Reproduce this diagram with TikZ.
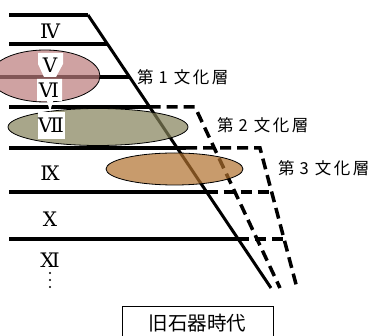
\documentclass[tikz,border=0pt]{standalone}
\usepackage{fontspec}
\newfontfamily\jp{Noto Sans CJK JP}
\newfontfamily\rom{DejaVu Serif}
\definecolor{pinkE}{RGB}{186,123,123}
\definecolor{oliveE}{RGB}{131,128,88}
\definecolor{orangeE}{RGB}{176,112,45}
\begin{document}
\begin{tikzpicture}[x=1pt,y=-1pt,
  layer/.style={line width=4pt},
  diag/.style={line width=3pt},
  dashline/.style={line width=3.5pt,dash pattern=on 11pt off 6pt},
  numeral/.style={font=\rom\fontsize{20}{20}\selectfont,inner sep=0pt},
  culture/.style={font=\jp\fontsize{16.5}{16.5}\selectfont,anchor=west,inner sep=0pt},
  periodbox/.style={draw=black,line width=1pt,minimum width=151pt,minimum height=33pt,font=\jp\fontsize{19.5}{20}\selectfont,inner sep=0pt}]
\useasboundingbox (0,0) rectangle (380,336);
% main diagonal
\coordinate (dTop) at (88,15);
\coordinate (dBot) at (271,288);
\draw[diag] (dTop) -- (dBot);
% solid layer lines
\coordinate (l0a) at (9,15);
\coordinate (l1a) at (9,44);   \coordinate (l1b) at (107.4,44);
\coordinate (l2a) at (0,77);   \coordinate (l2b) at (129.6,77);
\coordinate (l3a) at (9,107);  \coordinate (l3b) at (149.7,107);
\coordinate (l4a) at (9,148);  \coordinate (l4b) at (186,148);
\coordinate (l5a) at (9,192);  \coordinate (l5b) at (206.6,192);
\coordinate (l6a) at (9,239);  \coordinate (l6b) at (238,239);
\draw[layer] (l0a) -- (dTop);
\draw[layer] (l1a) -- (l1b);
\draw[layer] (l2a) -- (l2b);
\draw[layer] (l3a) -- (l3b);
\draw[layer] (l4a) -- (l4b);
\draw[layer] (l5a) -- (l5b);
\draw[layer] (l6a) -- (l6b);
% dashed boundaries
\coordinate (aTop) at (195,107);
\coordinate (aBot) at (280,288);
\coordinate (bTop) at (260,148);
\coordinate (bBot) at (297,288);
\coordinate (b5) at (271.6,192);
\coordinate (b6) at (284,239);
\draw[dashline] (l3b) -- (aTop) -- (aBot);
\draw[dashline] (l4b) -- (bTop) -- (bBot);
\draw[dashline] (l5b) -- (b5);
\draw[dashline] (l6b) -- (b6);
% culture layers
\fill[pinkE,fill opacity=0.7] (45,76) ellipse [x radius=55, y radius=26];
\draw[line width=0.8pt] (45,76) ellipse [x radius=55, y radius=26];
\fill[oliveE,fill opacity=0.7] (98,127) ellipse [x radius=90, y radius=18.5];
\draw[line width=0.8pt] (98,127) ellipse [x radius=90, y radius=18.5];
\fill[orangeE,fill opacity=0.7] (174.5,169) ellipse [x radius=68.5, y radius=16];
\draw[line width=0.8pt] (174.5,169) ellipse [x radius=68.5, y radius=16];
% white label backgrounds
\fill[white] (38,53) -- (63,53) -- (63,64) -- (56,77) -- (44,77) -- (38,64) -- cycle;
\fill[white] (37,79) -- (62,79) -- (62,101) -- (53,101) -- (50,112) -- (47,101) -- (37,101) -- cycle;
\fill[white] (38,112) -- (65,112) -- (65,139) -- (38,139) -- cycle;
% numerals
\node[numeral] (n4) at (50,31) {Ⅳ};
\node[numeral] (n5) at (50,65) {Ⅴ};
\node[numeral] (n6) at (49,90) {Ⅵ};
\node[numeral] (n7) at (51,125) {Ⅶ};
\node[numeral] (n9) at (50,173) {Ⅸ};
\node[numeral] (n10) at (50,219) {Ⅹ};
\node[numeral] (n11) at (50,260) {Ⅺ};
\fill (50,273) circle (1.2pt) (50,280) circle (1.2pt) (50,287) circle (1.2pt);
% culture labels
\node[culture] (c1) at (137,77) {第\kern5pt 1\kern6pt 文\kern2.5pt 化\kern2.5pt 層};
\node[culture] (c2) at (217,125) {第\kern5pt 2\kern6pt 文\kern2.5pt 化\kern2.5pt 層};
\node[culture] (c3) at (278,168) {第\kern5pt 3\kern6pt 文\kern2.5pt 化\kern2.5pt 層};
% period box
\node[periodbox] (era) at (197.5,323.5) {旧石器時代};
\end{tikzpicture}
\end{document}
